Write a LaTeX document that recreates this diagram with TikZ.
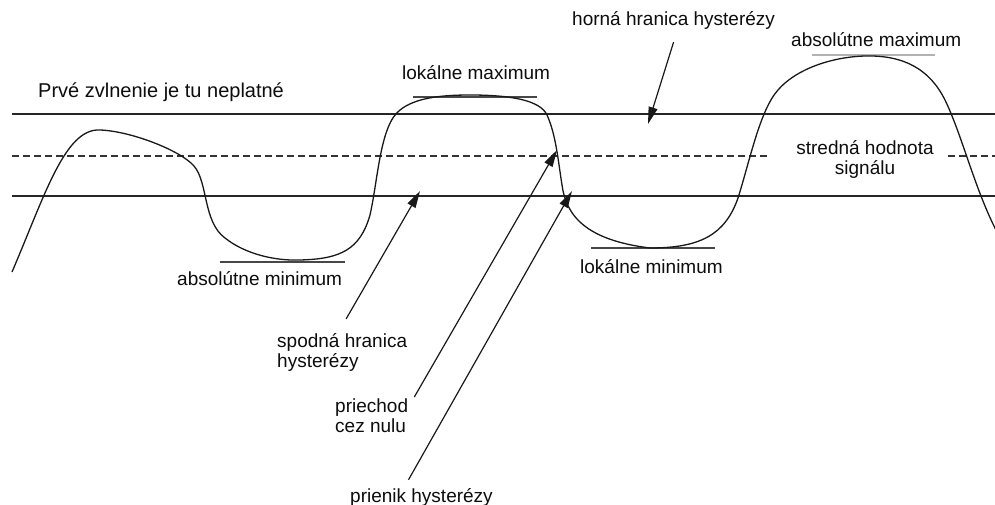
\documentclass[tikz,border=0pt]{standalone}
\usepackage{fontspec}
\setmainfont{Liberation Sans}
\usetikzlibrary{arrows.meta}
\begin{document}
\begin{tikzpicture}[x=1pt,y=-1pt,
  lbl/.style={inner sep=0pt,font=\fontsize{19}{20}\selectfont,text=black!95},
  level/.style={line width=1.2pt,black!85},
  mean/.style={line width=1.1pt,black!80,dash pattern=on 7pt off 4pt},
  tangent/.style={line width=1.2pt,black!72},
  signal/.style={line width=1.3pt,black!90},
  arr/.style={line width=1.2pt,black!90,-{Triangle[length=17pt,width=9pt]}}]
\useasboundingbox (0,0) rectangle (995,505);
\fill[white] (0,0) rectangle (995,505);

% hysteresis bounds and mean value
\draw[level] (12,114) -- (995,114);
\draw[level] (12,196) -- (995,196);
\draw[mean] (12,156) -- (770,156);
\draw[mean] (948,156) -- (995,156);

% extremum markers
\draw[tangent] (220,262) -- (345,262);
\draw[tangent] (413,97) -- (537,97);
\draw[tangent] (591,248) -- (715,248);
\draw[line width=1.1pt,black!30] (812,55) -- (935,55);

% signal
\draw[signal] (12,272)
  .. controls (45,195) and (65,128) .. (100,130)
  .. controls (130,131) and (180,150) .. (194,166)
  .. controls (208,182) and (203,222) .. (225,238)
  .. controls (245,254) and (275,261) .. (300,260)
  .. controls (340,259) and (360,250) .. (370,215)
  .. controls (378,180) and (380,125) .. (400,110)
  .. controls (415,98) and (440,95) .. (470,95)
  .. controls (510,95) and (540,100) .. (547,115)
  .. controls (556,135) and (558,160) .. (562,185)
  .. controls (566,215) and (585,240) .. (650,248)
  .. controls (700,248) and (725,235) .. (738,198)
  .. controls (750,160) and (760,110) .. (778,90)
  .. controls (795,70) and (830,57) .. (865,56)
  .. controls (905,55) and (930,70) .. (945,100)
  .. controls (962,135) and (975,190) .. (997,232);

% labels (multi-line nodes sit on the baseline of their last line)
\node[lbl,font=\fontsize{20}{22}\selectfont,anchor=base west] (prv) at (38,98) {Prvé zvlnenie je tu neplatné};
\node[lbl,anchor=base west] (horna) at (572,26) {horná hranica hysterézy};
\node[lbl,anchor=base west] (lokmax) at (402,80) {lokálne maximum};
\node[lbl,anchor=base west] (absmax) at (791,47) {absolútne maximum};
\node[lbl,anchor=base,align=center] (stred) at (865,175) {stredná hodnota\\signálu};
\node[lbl,anchor=base west] (absmin) at (177,285) {absolútne minimum};
\node[lbl,anchor=base west] (lokmin) at (580,273) {lokálne minimum};
\node[lbl,anchor=base west,align=left] (spod) at (277,367) {spodná hranica\\hysterézy};
\node[lbl,anchor=base west,align=left] (prie) at (335,432) {priechod\\cez nulu};
\node[lbl,anchor=base west] (prien) at (350,502) {prienik hysterézy};

% arrow targets
\coordinate (tipH) at (648,124);
\coordinate (tipS) at (420,191);
\coordinate (tipP) at (557,150);
\coordinate (tipN) at (572,191);

% pointers
\draw[arr] ([yshift=-12pt]horna.south) -- (tipH);
\draw[arr] ([xshift=4pt,yshift=14pt]spod.north) -- (tipS);
\draw[arr] ([xshift=6pt,yshift=1pt]prie.north east) -- (tipP);
\draw[arr] ([xshift=-13pt,yshift=8pt]prien.north) -- (tipN);
\end{tikzpicture}
\end{document}
